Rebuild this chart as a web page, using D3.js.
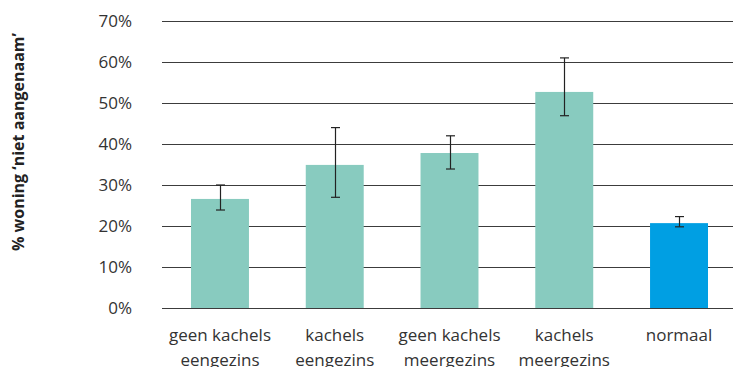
<!DOCTYPE html>
<html><head><meta charset="utf-8">
<script src="https://cdn.jsdelivr.net/npm/d3@7"></script>
<style>
html,body{margin:0;padding:0;background:#fff;}
svg{display:block;}
text{font-family:"Open Sans",sans-serif;}
</style></head>
<body>
<svg id="chart" width="733" height="367"></svg>
<script>
const categories = [["geen kachels","eengezins"],["kachels","eengezins"],["geen kachels","meergezins"],["kachels","meergezins"],["normaal"]];
const values = [0.266, 0.349, 0.378, 0.527, 0.207];
const errLow = [0.239, 0.270, 0.339, 0.469, 0.198];
const errHigh = [0.300, 0.440, 0.420, 0.610, 0.223];
const barColors = ["#88cbbf","#88cbbf","#88cbbf","#88cbbf","#009fe3"];
const yTicks = [0,0.1,0.2,0.3,0.4,0.5,0.6,0.7];
const yTitle = "% woning ‘niet aangenaam’";

const svg = d3.select("#chart");
const x = d3.scaleBand().domain(d3.range(categories.length)).range([162.6, 736.4]).paddingInner(0.495).paddingOuter(0.2475);
const y = d3.scaleLinear().domain([0,0.7]).range([308, 21]);

// gridlines
svg.append("g").selectAll("line").data(yTicks).join("line")
  .attr("x1", 162).attr("x2", 733)
  .attr("y1", d => Math.round(y(d)) + 0.5).attr("y2", d => Math.round(y(d)) + 0.5)
  .attr("stroke", "#3c3c3c").attr("stroke-width", 1.2);

// y tick labels
svg.append("g").selectAll("text").data(yTicks).join("text")
  .attr("x", 132).attr("y", d => y(d) + 6)
  .attr("text-anchor", "end").attr("font-size", 17).attr("fill", "#333")
  .text(d => d3.format(".0%")(d));

// bars
svg.append("g").selectAll("rect").data(values).join("rect")
  .attr("x", (d,i) => x(i)).attr("width", x.bandwidth())
  .attr("y", d => y(d)).attr("height", d => y(0) - y(d))
  .attr("fill", (d,i) => barColors[i]);

// error bars
const eg = svg.append("g").attr("stroke", "#222").attr("stroke-width", 1.2);
values.forEach((v,i) => {
  const cx = Math.round(x(i) + x.bandwidth()/2) + 0.5;
  eg.append("line").attr("x1", cx).attr("x2", cx).attr("y1", y(errHigh[i])).attr("y2", y(errLow[i]));
  eg.append("line").attr("x1", cx-4.5).attr("x2", cx+4.5).attr("y1", y(errHigh[i])).attr("y2", y(errHigh[i]));
  eg.append("line").attr("x1", cx-4.5).attr("x2", cx+4.5).attr("y1", y(errLow[i])).attr("y2", y(errLow[i]));
});

// x labels
const xl = svg.append("g");
categories.forEach((lines,i) => {
  const t = xl.append("text").attr("text-anchor", "middle").attr("font-size", 17).attr("fill", "#333");
  lines.forEach((ln,j) => {
    t.append("tspan").attr("x", x(i) + x.bandwidth()/2).attr("y", 341 + j*25).text(ln);
  });
});

// y title
svg.append("text")
  .attr("transform", "translate(24,142) rotate(-90)")
  .attr("text-anchor", "middle").attr("font-size", 16).attr("font-weight", "bold").attr("fill", "#222")
  .text(yTitle);
</script>
</body></html>
